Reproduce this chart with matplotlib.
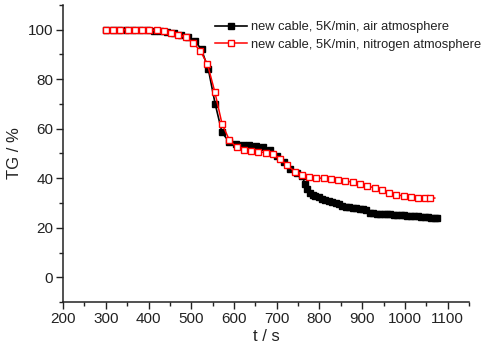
import matplotlib
matplotlib.use("Agg")
import matplotlib.pyplot as plt
from matplotlib.ticker import MultipleLocator

plt.rcParams['font.family'] = ['Liberation Sans', 'DejaVu Sans']

# TG curve, new cable, 5 K/min in air
t_air = [300, 316, 332, 348, 364, 380, 396, 412, 428, 444, 460, 476, 492, 508,
         524, 540, 556, 572, 588, 604, 620, 636, 652, 668, 684, 700, 716, 732,
         748, 760, 766, 772, 778, 784, 790, 798, 806, 814, 822, 830, 838, 846,
         854, 862, 870, 878, 886, 894, 902, 910, 918, 926, 934, 942, 950, 958,
         966, 974, 982, 990, 998, 1006, 1014, 1022, 1030, 1038, 1046, 1054,
         1062, 1070, 1076]
tg_air = [100.0, 100.0, 100.0, 99.9, 99.9, 99.8, 99.7, 99.6, 99.4, 99.1, 98.7,
          98.0, 97.2, 95.6, 92.0, 84.0, 70.0, 58.5, 54.8, 53.8, 53.5, 53.3,
          53.0, 52.5, 51.3, 49.0, 46.5, 43.8, 42.0, 41.0, 37.5, 35.6, 34.0,
          33.2, 32.8, 32.3, 31.8, 31.2, 30.8, 30.3, 29.9, 29.5, 28.9, 28.5,
          28.3, 28.1, 27.9, 27.7, 27.4, 27.0, 26.0, 25.8, 25.7, 25.6, 25.5,
          25.5, 25.4, 25.3, 25.2, 25.1, 25.0, 24.9, 24.8, 24.7, 24.6, 24.5,
          24.4, 24.2, 24.1, 24.0, 23.9]

# TG curve, new cable, 5 K/min in nitrogen
t_n2 = [300, 317, 334, 351, 368, 385, 402, 419, 436, 453, 470, 487, 504, 521,
        538, 555, 572, 589, 606, 623, 640, 657, 674, 691, 708, 725, 742, 759,
        776, 793, 810, 827, 844, 861, 878, 895, 912, 929, 946, 963, 980, 997,
        1014, 1031, 1048, 1058, 1070]
tg_n2 = [100.0, 100.0, 100.0, 99.9, 99.8, 99.8, 99.8, 99.7, 99.3, 98.8, 98.0,
         96.9, 94.8, 91.5, 86.0, 75.0, 62.0, 55.5, 52.5, 51.6, 51.2, 50.7,
         50.3, 49.6, 47.8, 45.2, 42.7, 41.5, 40.6, 40.2, 39.9, 39.6, 39.3,
         38.9, 38.4, 37.7, 36.9, 36.1, 35.1, 34.1, 33.4, 32.8, 32.4, 32.2,
         32.0, 32.0, 32.0]

labels = ["new cable, 5K/min, air atmosphere",
          "new cable, 5K/min, nitrogen atmosphere"]

fig = plt.figure(figsize=(4.89, 3.5), dpi=100)
ax = fig.add_axes([0.129, 0.137, 0.83, 0.849])

ax.plot(t_air, tg_air, color='black', lw=1.2, marker='s', ms=4.0,
        mfc='black', mec='black', label=labels[0])
ax.plot(t_n2, tg_n2, color='red', lw=1.1, marker='s', ms=4.6,
        mfc='white', mec='red', mew=1.0, markevery=slice(0, -1),
        label=labels[1])

ax.set_xlim(200, 1150)
ax.set_ylim(-10, 110)
ax.xaxis.set_minor_locator(MultipleLocator(50))
ax.yaxis.set_minor_locator(MultipleLocator(10))
ax.set_xticks(range(200, 1101, 100))
ax.set_yticks(range(0, 101, 20))

for side in ('top', 'right'):
    ax.spines[side].set_visible(False)
for side in ('left', 'bottom'):
    ax.spines[side].set_linewidth(1.1)
    ax.spines[side].set_color('#222222')

ax.tick_params(which='major', direction='out', length=5, width=1.0,
               labelsize=11, colors='#222222', pad=2)
ax.tick_params(which='minor', direction='out', length=3, width=1.0,
               colors='#222222')

ax.set_xlabel("t / s", fontsize=12, color='#222222', labelpad=2)
ax.set_ylabel("TG / %", fontsize=12, color='#222222', labelpad=4)

ax.legend(loc='upper left', bbox_to_anchor=(0.352, 0.975), frameon=False,
          fontsize=9.3, handlelength=2.5, handletextpad=0.25,
          labelspacing=0.4, borderpad=0.2, labelcolor='#222222')

fig.savefig("out.png", dpi=100)
